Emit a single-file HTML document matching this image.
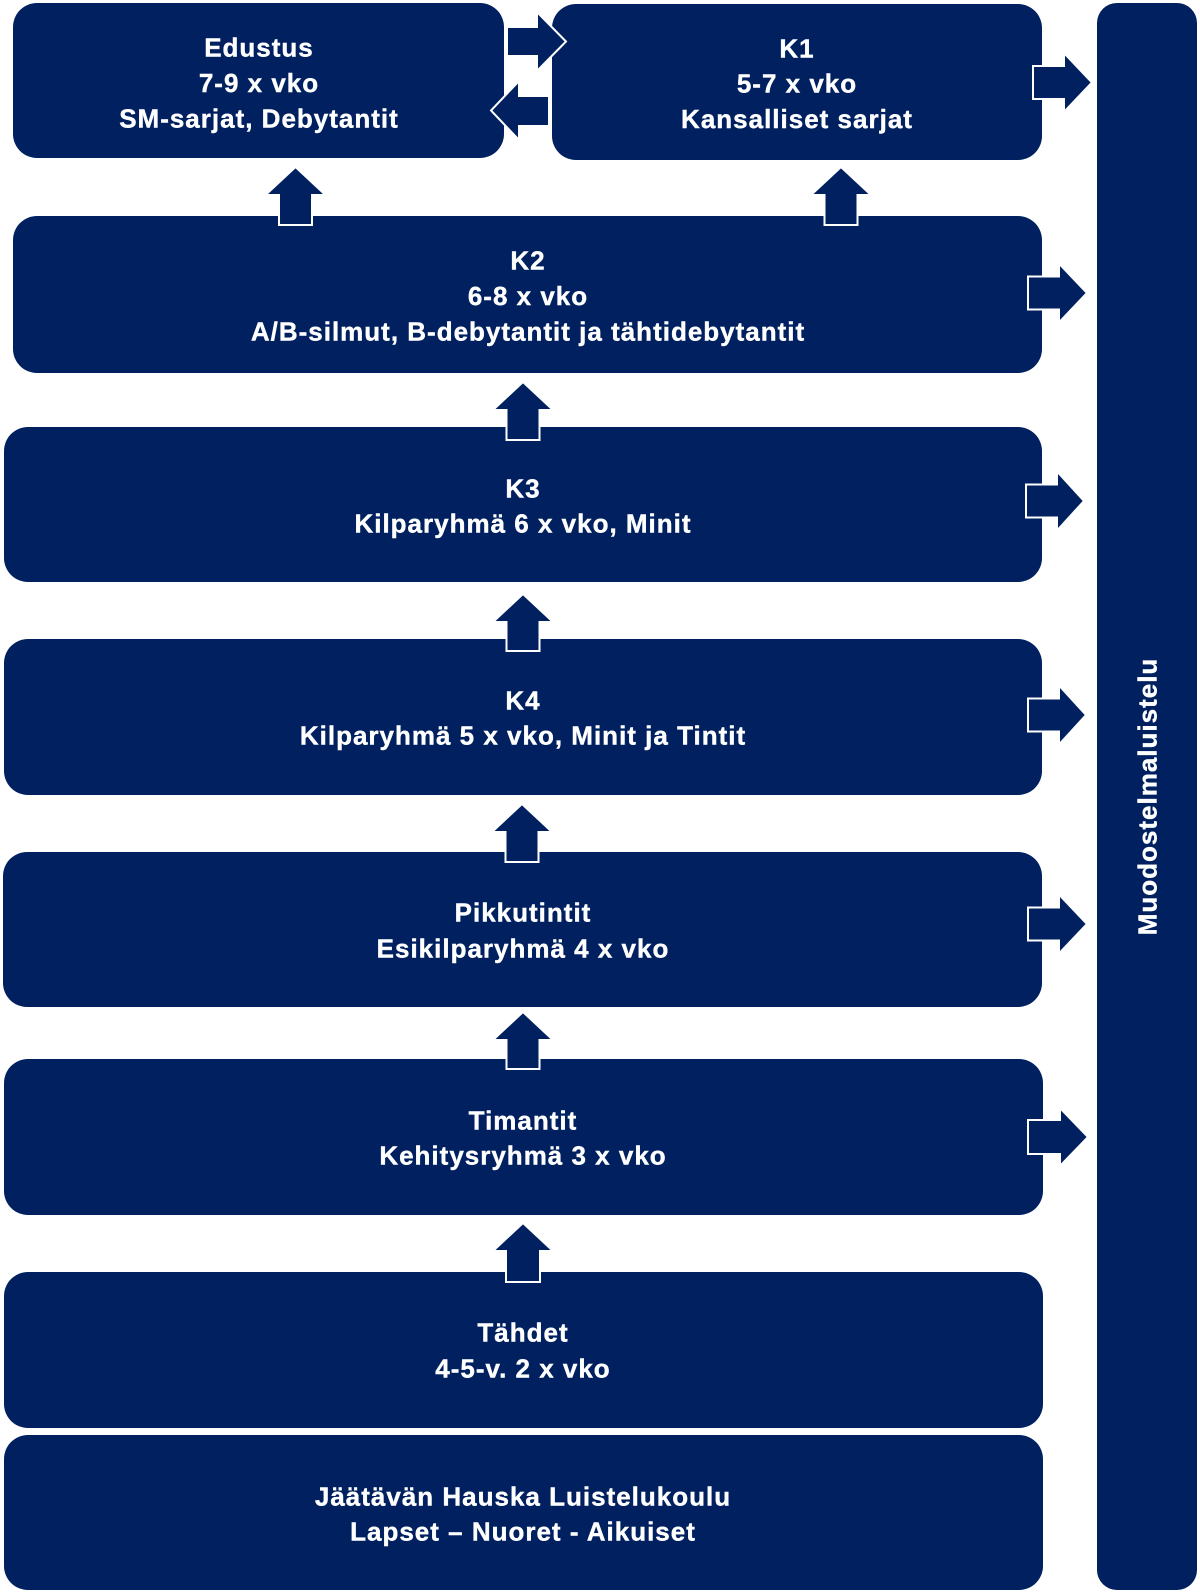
<!DOCTYPE html>
<html>
<head>
<meta charset="utf-8">
<style>
  html, body { margin: 0; padding: 0; background: #ffffff; }
  body { width: 1200px; height: 1594px; overflow: hidden; }
  svg { display: block; }
  .t { font-family: "Liberation Sans", "DejaVu Sans", sans-serif; font-weight: bold; font-size: 26px; fill: #ffffff; stroke: #ffffff; stroke-width: 0.4; letter-spacing: 1px; }
  .a { fill: #002060; stroke: #ffffff; stroke-width: 2; stroke-linejoin: miter; }
</style>
</head>
<body>
<svg width="1200" height="1594" viewBox="0 0 1200 1594" xmlns="http://www.w3.org/2000/svg">
  <g fill="#002060">
    <rect x="13" y="3" width="491" height="155" rx="24" ry="24"/>
    <rect x="552" y="4" width="490" height="156" rx="24" ry="24"/>
    <rect x="13" y="216" width="1029" height="157" rx="24" ry="24"/>
    <rect x="4" y="427" width="1038" height="155" rx="24" ry="24"/>
    <rect x="4" y="639" width="1038" height="156" rx="24" ry="24"/>
    <rect x="3" y="852" width="1039" height="155" rx="24" ry="24"/>
    <rect x="4" y="1059" width="1039" height="156" rx="24" ry="24"/>
    <rect x="4" y="1272" width="1039" height="156" rx="24" ry="24"/>
    <rect x="4" y="1435" width="1039" height="155" rx="24" ry="24"/>
    <rect x="1097" y="3" width="100" height="1587" rx="20" ry="20"/>
  </g>

  <!-- Up arrows -->
  <polygon class="a" points="295.5,167 325.5,195 312,195 312,225 279,225 279,195 265.5,195"/>
  <polygon class="a" points="841,167 871,195 857.5,195 857.5,225 824.5,225 824.5,195 811,195"/>
  <polygon class="a" points="523,382 553,410 539.5,410 539.5,440 506.5,440 506.5,410 493,410"/>
  <polygon class="a" points="523,594 553,622 539.5,622 539.5,651 506.5,651 506.5,622 493,622"/>
  <polygon class="a" points="522,804 552,832 538.5,832 538.5,862 505.5,862 505.5,832 492,832"/>
  <polygon class="a" points="523,1012 553,1040 539.5,1040 539.5,1069 506.5,1069 506.5,1040 493,1040"/>
  <polygon class="a" points="523,1223 553,1251 540,1251 540,1282 506,1282 506,1251 493,1251"/>

  <!-- Horizontal arrows between Edustus and K1 -->
  <polygon class="a" points="507,27 537,27 537,12 566,41.5 537,71 537,56 507,56"/>
  <polygon class="a" points="549,96 519,96 519,81 491,110.5 519,140 519,126 549,126"/>

  <!-- Side arrows to bar -->
  <polygon class="a" points="1033,66 1064,66 1064,53 1092,82.5 1064,112 1064,99 1033,99"/>
  <polygon class="a" points="1028,276.5 1059,276.5 1059,263.5 1087,293 1059,322.5 1059,309.5 1028,309.5"/>
  <polygon class="a" points="1026,484.5 1057,484.5 1057,471.5 1084,501 1057,530.5 1057,517.5 1026,517.5"/>
  <polygon class="a" points="1028,698.5 1059,698.5 1059,685.5 1086,715 1059,744.5 1059,731.5 1028,731.5"/>
  <polygon class="a" points="1028,907.5 1059,907.5 1059,894.5 1087,924 1059,953.5 1059,940.5 1028,940.5"/>
  <polygon class="a" points="1028,1120 1060,1120 1060,1108 1088,1137 1060,1166 1060,1154 1028,1154"/>

  <!-- Texts -->
  <g class="t" text-anchor="middle">
    <text x="259" y="56.5">Edustus</text>
    <text x="259" y="92">7-9 x vko</text>
    <text x="259" y="127.5">SM-sarjat, Debytantit</text>

    <text x="797" y="57.5">K1</text>
    <text x="797" y="92.5">5-7 x vko</text>
    <text x="797" y="128">Kansalliset sarjat</text>

    <text x="528" y="269.5">K2</text>
    <text x="528" y="305">6-8 x vko</text>
    <text x="528" y="340.5">A/B-silmut, B-debytantit ja tähtidebytantit</text>

    <text x="523" y="497.5">K3</text>
    <text x="523" y="532.5">Kilparyhmä 6 x vko, Minit</text>

    <text x="523" y="709.5">K4</text>
    <text x="523" y="744.5">Kilparyhmä 5 x vko, Minit ja Tintit</text>

    <text x="523" y="921.5">Pikkutintit</text>
    <text x="523" y="957.5">Esikilparyhmä 4 x vko</text>

    <text x="523" y="1129.5">Timantit</text>
    <text x="523" y="1164.5">Kehitysryhmä 3 x vko</text>

    <text x="523" y="1341.5">Tähdet</text>
    <text x="523" y="1377.5">4-5-v. 2 x vko</text>

    <text x="523" y="1505.5">Jäätävän Hauska Luistelukoulu</text>
    <text x="523" y="1540.5">Lapset – Nuoret - Aikuiset</text>

    <text x="0" y="0" transform="translate(1156.5,796.5) rotate(-90)">Muodostelmaluistelu</text>
  </g>
</svg>
</body>
</html>
